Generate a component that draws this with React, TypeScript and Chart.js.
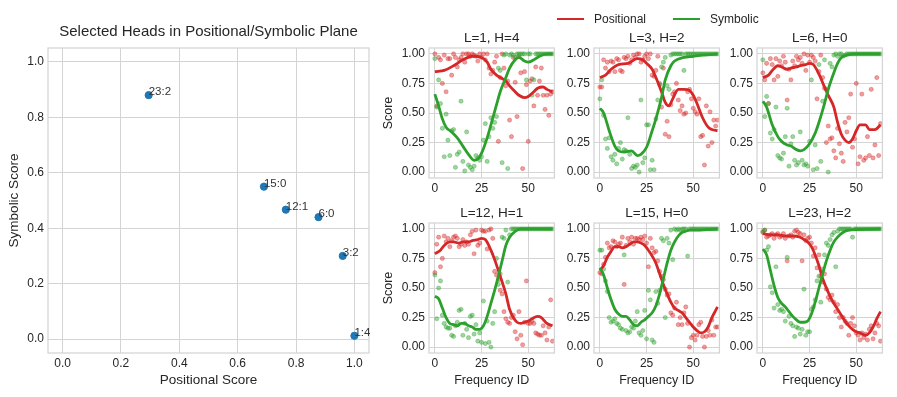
import React, { useEffect, useRef } from "react";
import { Chart, registerables } from "chart.js";

Chart.register(...registerables);

const FONT = "'Liberation Sans', Arial, Helvetica, sans-serif";
const TEXT = "#262626";
const GRID = "#d4d4d4";
const RED = "#d62728";
const GREEN = "#2ca02c";
const RED_PT = "rgba(214,39,40,0.45)";
const GREEN_PT = "rgba(44,160,44,0.45)";

// ---- Left scatter: selected heads ----
const planeTitle = "Selected Heads in Positional/Symbolic Plane";
const headLabels = ["1:4", "3:2", "6:0", "12:1", "15:0", "23:2"];
const positionalScores = [1.0, 0.96, 0.877, 0.765, 0.69, 0.295];
const symbolicScores = [0.012, 0.3, 0.44, 0.467, 0.55, 0.88];
const planeTicks = [0, 0.2, 0.4, 0.6, 0.8, 1.0];

// ---- Small panels ----
const freqIds = Array.from({ length: 64 }, (_, i) => i);
const freqTicks = [0, 25, 50];
const scoreTicks = [0, 0.25, 0.5, 0.75, 1.0];

// L=1, H=4
const l1h4Pos = [1.0,0.56,0.97,0.95,0.75,0.99,0.68,0.96,0.96,0.82,1.0,0.97,0.89,0.95,0.97,1.0,0.93,1.0,1.0,0.98,1.0,0.99,0.98,0.94,1.0,0.97,1.0,0.95,1.0,0.88,0.83,0.86,0.93,0.98,0.26,0.8,1.0,0.88,0.73,0.77,0.44,0.3,0.97,0.76,0.47,0.98,0.84,0.03,0.85,0.74,0.26,0.77,0.79,0.56,0.89,0.65,0.77,0.88,0.65,0.53,0.65,0.48,0.66,0.68];
const l1h4Sym = [0.96,0.55,0.78,0.58,0.37,0.13,0.49,0.27,0.14,0.35,0.36,0.04,0.15,0.17,0.6,0.09,0.01,0.34,0.06,0.04,0.02,0.05,0.14,0.12,0.1,0.13,0.27,0.41,0.09,0.3,0.46,0.37,0.42,0.47,0.88,0.86,0.08,0.99,1.0,0.03,0.99,1.0,0.99,0.97,1.0,1.0,1.0,1.0,1.0,0.78,1.0,1.0,0.65,0.78,1.0,1.0,1.0,1.0,1.0,1.0,1.0,1.0,1.0,1.0];
const l1h4PosCurve = [[0,0.85],[5,0.86],[10,0.9],[15,0.95],[20,0.98],[25,0.97],[28,0.93],[30,0.87],[33,0.82],[35,0.8],[38,0.77],[40,0.73],[43,0.68],[45,0.65],[48,0.63],[50,0.64],[53,0.68],[55,0.71],[58,0.72],[60,0.7],[63,0.68]];
const l1h4SymCurve = [[0,0.66],[2,0.56],[4,0.45],[6,0.38],[9,0.34],[12,0.29],[15,0.22],[18,0.15],[21,0.1],[23,0.11],[25,0.16],[28,0.29],[30,0.4],[33,0.57],[35,0.68],[38,0.8],[40,0.88],[43,0.95],[45,0.97],[48,0.94],[50,0.93],[53,0.95],[56,0.98],[60,1.0],[63,1.0]];

// L=3, H=2
const l3h2Pos = [0.72,0.72,0.95,0.88,0.93,0.85,0.94,0.93,0.85,0.96,0.95,0.86,0.85,0.97,0.96,0.98,0.92,0.95,0.99,0.97,1.0,1.0,0.93,0.95,0.98,1.0,0.96,1.0,0.82,0.81,0.86,0.98,0.74,0.55,0.88,0.32,0.43,0.3,0.57,0.66,0.68,0.75,0.61,0.52,0.56,0.49,0.5,0.68,0.7,0.62,0.54,0.51,0.49,0.62,0.3,0.31,0.06,0.56,0.22,0.51,0.25,0.44,0.39,0.44];
const l3h2Sym = [0.62,0.78,0.48,0.28,0.2,0.29,0.13,0.1,0.15,0.07,0.2,0.25,0.11,0.19,0.18,0.46,0.15,0.03,0.05,0.04,0.06,0.0,0.61,0.08,0.12,0.4,0.4,0.02,0.1,0.02,0.45,0.61,0.75,0.89,0.93,0.97,0.73,0.7,0.99,1.0,1.0,1.0,1.0,1.0,1.0,0.86,1.0,1.0,1.0,1.0,1.0,1.0,1.0,1.0,1.0,1.0,1.0,1.0,1.0,1.0,1.0,1.0,1.0,1.0];
const l3h2PosCurve = [[0,0.8],[3,0.82],[6,0.87],[10,0.91],[15,0.92],[20,0.96],[23,0.95],[25,0.92],[28,0.87],[30,0.8],[33,0.68],[35,0.59],[37,0.56],[39,0.62],[42,0.7],[45,0.7],[48,0.69],[50,0.65],[52,0.58],[55,0.46],[58,0.38],[60,0.36],[63,0.35]];
const l3h2SymCurve = [[0,0.54],[2,0.5],[5,0.35],[8,0.22],[10,0.18],[13,0.17],[17,0.18],[20,0.14],[22,0.15],[25,0.21],[28,0.35],[30,0.45],[33,0.63],[35,0.78],[38,0.9],[40,0.94],[45,0.97],[50,0.98],[55,0.99],[63,1.0]];

// L=6, H=0
const l6h0Pos = [0.84,0.78,0.92,0.58,0.96,0.91,0.78,0.96,0.81,0.94,0.9,0.98,0.93,0.61,0.87,0.78,0.94,0.9,0.98,0.95,0.97,0.92,1.0,0.86,0.99,0.93,0.99,0.97,0.94,0.62,0.85,0.99,0.8,0.71,0.25,0.39,0.28,0.29,0.18,0.12,0.37,0.24,0.16,0.09,0.42,0.34,0.46,0.66,0.21,0.28,0.75,0.07,0.13,0.66,0.1,0.12,0.3,0.14,0.7,0.12,0.23,0.8,0.14,0.41];
const l6h0Sym = [0.95,0.47,0.64,0.58,0.33,0.28,0.36,0.55,0.14,0.12,0.11,0.16,0.3,0.54,0.05,0.24,0.3,0.1,0.06,0.08,0.34,0.1,0.06,0.07,0.05,0.26,0.78,0.02,0.23,0.03,0.91,0.09,0.6,0.95,0.7,0.0,0.92,0.89,0.99,1.0,0.98,1.0,1.0,0.98,0.99,1.0,1.0,1.0,1.0,1.0,1.0,1.0,1.0,1.0,1.0,1.0,1.0,1.0,1.0,1.0,1.0,1.0,1.0,1.0];
const l6h0PosCurve = [[0,0.8],[3,0.82],[5,0.86],[8,0.9],[10,0.89],[13,0.87],[15,0.88],[18,0.89],[20,0.9],[23,0.91],[25,0.92],[27,0.91],[30,0.83],[33,0.72],[35,0.65],[38,0.55],[40,0.42],[42,0.32],[44,0.27],[46,0.25],[48,0.28],[50,0.35],[52,0.4],[55,0.4],[57,0.36],[60,0.36],[63,0.4]];
const l6h0SymCurve = [[0,0.6],[2,0.55],[5,0.4],[8,0.3],[10,0.26],[13,0.23],[15,0.22],[18,0.19],[20,0.18],[22,0.19],[25,0.24],[28,0.33],[30,0.42],[33,0.58],[35,0.7],[38,0.84],[40,0.92],[42,0.97],[45,0.99],[50,1.0],[63,1.0]];

// L=12, H=1
const l12h1Pos = [0.63,0.87,0.93,0.68,0.75,0.94,0.89,0.92,0.85,0.9,0.93,0.94,0.92,0.85,0.87,0.91,0.86,0.89,0.87,0.95,0.98,0.79,0.99,0.86,0.88,0.99,0.98,0.98,0.83,0.99,1.0,0.92,0.64,0.61,0.57,0.48,0.45,0.3,0.24,0.21,0.2,0.25,0.27,0.13,0.07,0.3,0.1,0.02,0.21,0.56,0.2,0.2,0.22,0.2,0.12,0.11,0.1,0.1,0.18,0.12,0.06,0.17,0.4,0.05];
const l12h1Sym = [0.61,0.24,0.5,0.56,0.27,0.2,0.17,0.16,0.16,0.1,0.09,0.18,0.21,0.31,0.32,0.1,0.2,0.15,0.08,0.26,0.27,0.11,0.19,0.05,0.12,0.04,0.39,0.03,0.22,0.04,0.0,0.2,0.3,0.75,0.53,0.62,0.93,0.92,0.99,0.55,0.95,1.0,1.0,1.0,1.0,1.0,1.0,1.0,1.0,1.0,1.0,1.0,1.0,1.0,1.0,1.0,1.0,1.0,1.0,1.0,1.0,1.0,1.0,1.0];
const l12h1PosCurve = [[0,0.79],[3,0.82],[5,0.86],[8,0.89],[10,0.89],[13,0.88],[15,0.89],[18,0.89],[20,0.9],[23,0.91],[25,0.92],[27,0.91],[30,0.82],[32,0.74],[35,0.6],[38,0.45],[40,0.32],[42,0.25],[44,0.21],[46,0.2],[48,0.21],[50,0.22],[52,0.24],[55,0.26],[57,0.25],[60,0.2],[63,0.18]];
const l12h1SymCurve = [[0,0.43],[2,0.41],[4,0.33],[6,0.25],[8,0.2],[10,0.19],[12,0.18],[14,0.2],[16,0.2],[18,0.18],[20,0.17],[22,0.15],[24,0.15],[26,0.18],[28,0.26],[30,0.37],[32,0.48],[34,0.6],[36,0.73],[38,0.86],[40,0.93],[43,0.98],[46,1.0],[50,1.0],[63,1.0]];

// L=15, H=0
const l15h0Pos = [0.63,0.62,0.7,0.76,0.88,0.84,0.85,0.9,0.89,0.85,0.87,0.88,0.93,0.53,0.86,0.92,0.89,0.93,0.87,0.92,0.92,0.91,0.93,0.91,0.94,0.88,0.68,0.92,0.84,0.8,0.81,0.73,0.64,0.6,0.57,0.49,0.44,0.45,0.29,0.27,0.33,0.38,0.19,0.25,0.19,0.29,0.34,0.2,0.0,0.08,0.1,0.06,0.1,0.19,0.21,0.09,0.0,0.09,0.14,0.1,0.23,0.1,0.17,0.17];
const l15h0Sym = [0.82,0.82,0.66,0.56,0.47,0.25,0.21,0.22,0.24,0.2,0.19,0.16,0.15,0.78,0.14,0.12,0.13,0.17,0.16,0.22,0.3,0.12,0.1,0.14,0.31,0.07,0.48,0.4,0.06,0.04,0.47,0.37,0.48,0.92,0.9,0.25,0.92,0.88,0.99,0.74,1.0,0.99,1.0,0.99,1.0,1.0,1.0,0.77,1.0,1.0,1.0,1.0,1.0,1.0,1.0,1.0,1.0,1.0,1.0,1.0,1.0,1.0,1.0,1.0];
const l15h0PosCurve = [[0,0.65],[2,0.69],[4,0.76],[6,0.81],[8,0.85],[10,0.85],[12,0.84],[14,0.85],[16,0.87],[18,0.89],[20,0.89],[22,0.88],[24,0.86],[26,0.82],[28,0.77],[30,0.71],[32,0.62],[34,0.53],[36,0.45],[38,0.38],[40,0.33],[42,0.31],[44,0.29],[46,0.25],[48,0.21],[50,0.17],[52,0.14],[54,0.12],[56,0.13],[58,0.17],[60,0.25],[62,0.31],[63,0.34]];
const l15h0SymCurve = [[0,0.67],[2,0.61],[4,0.5],[6,0.4],[8,0.32],[10,0.28],[12,0.26],[14,0.26],[16,0.23],[18,0.19],[20,0.18],[22,0.21],[24,0.23],[26,0.26],[28,0.29],[30,0.35],[32,0.45],[34,0.58],[36,0.71],[38,0.82],[40,0.89],[42,0.94],[44,0.97],[46,0.98],[48,0.99],[52,0.99],[63,1.0]];

// L=23, H=2
const l23h2Pos = [0.97,0.99,0.93,0.94,0.95,0.96,0.92,0.95,0.96,0.93,0.94,0.96,0.92,0.73,0.94,0.95,0.93,0.98,0.99,0.97,0.96,0.73,0.95,0.9,0.92,0.93,0.88,0.77,0.84,0.67,0.78,0.6,0.55,0.62,0.49,0.42,0.4,0.44,0.38,0.3,0.36,0.25,0.17,0.25,0.22,0.2,0.1,0.2,0.25,0.18,0.12,0.1,0.06,0.12,0.08,0.11,0.06,0.15,0.18,0.07,0.12,0.2,0.18,0.05];
const l23h2Sym = [0.98,0.99,0.82,0.85,0.51,0.46,0.33,0.68,0.36,0.31,0.32,0.3,0.22,0.76,0.26,0.2,0.18,0.09,0.17,0.16,0.11,0.15,0.49,0.1,0.13,0.13,0.32,0.34,0.4,0.56,0.6,0.38,0.66,0.78,0.88,0.86,0.91,0.95,0.97,0.68,0.98,1.0,1.0,1.0,1.0,1.0,1.0,1.0,0.93,1.0,1.0,1.0,1.0,1.0,1.0,1.0,1.0,1.0,1.0,1.0,1.0,1.0,1.0,1.0];
const l23h2PosCurve = [[0,0.96],[4,0.95],[8,0.95],[12,0.94],[16,0.94],[20,0.93],[22,0.91],[24,0.89],[26,0.85],[28,0.78],[30,0.69],[32,0.58],[34,0.5],[36,0.43],[38,0.37],[40,0.32],[42,0.27],[44,0.22],[46,0.18],[48,0.15],[50,0.13],[52,0.12],[55,0.1],[57,0.12],[59,0.17],[61,0.24],[63,0.3]];
const l23h2SymCurve = [[0,0.83],[2,0.78],[4,0.65],[6,0.52],[8,0.42],[10,0.37],[12,0.34],[14,0.3],[16,0.26],[18,0.23],[20,0.21],[22,0.21],[24,0.22],[26,0.28],[28,0.38],[30,0.5],[32,0.62],[34,0.73],[36,0.82],[38,0.89],[40,0.93],[42,0.96],[44,0.98],[46,0.99],[50,0.995],[63,1.0]];

const panels = [
  { title: "L=1, H=4", pos: l1h4Pos, sym: l1h4Sym, posCurve: l1h4PosCurve, symCurve: l1h4SymCurve },
  { title: "L=3, H=2", pos: l3h2Pos, sym: l3h2Sym, posCurve: l3h2PosCurve, symCurve: l3h2SymCurve },
  { title: "L=6, H=0", pos: l6h0Pos, sym: l6h0Sym, posCurve: l6h0PosCurve, symCurve: l6h0SymCurve },
  { title: "L=12, H=1", pos: l12h1Pos, sym: l12h1Sym, posCurve: l12h1PosCurve, symCurve: l12h1SymCurve },
  { title: "L=15, H=0", pos: l15h0Pos, sym: l15h0Sym, posCurve: l15h0PosCurve, symCurve: l15h0SymCurve },
  { title: "L=23, H=2", pos: l23h2Pos, sym: l23h2Sym, posCurve: l23h2PosCurve, symCurve: l23h2SymCurve },
];

// layout (pixels)
const colLefts = [429, 594, 757];
const rowTops = [48, 223];
const PANEL_W = 128;
const PANEL_H = 130;
const YAXIS_W = 50;
const TITLE_H = 22;

const framePlugin = {
  id: "frame",
  afterDatasetsDraw(chart: any) {
    const { ctx, chartArea } = chart;
    ctx.save();
    ctx.strokeStyle = GRID;
    ctx.lineWidth = 1.25;
    ctx.strokeRect(chartArea.left, chartArea.top, chartArea.right - chartArea.left, chartArea.bottom - chartArea.top);
    ctx.restore();
  },
};

// Draws a title centred over the plot area (like matplotlib's axes title)
function areaTitlePlugin(text: string, size: number, gap: number) {
  return {
    id: "areaTitle",
    afterDraw(chart: any) {
      const { ctx, chartArea } = chart;
      ctx.save();
      ctx.font = `${size}px ${FONT}`;
      ctx.fillStyle = TEXT;
      ctx.textAlign = "center";
      ctx.textBaseline = "middle";
      ctx.fillText(text, (chartArea.left + chartArea.right) / 2, chartArea.top - gap);
      ctx.restore();
    },
  };
}

const labelPlugin = {
  id: "pointLabels",
  afterDatasetsDraw(chart: any) {
    const { ctx } = chart;
    const xs = chart.scales.x;
    const ys = chart.scales.y;
    ctx.save();
    ctx.font = `11.5px ${FONT}`;
    ctx.fillStyle = "#333333";
    ctx.textAlign = "left";
    ctx.textBaseline = "alphabetic";
    headLabels.forEach((lab, i) => {
      ctx.fillText(lab, xs.getPixelForValue(positionalScores[i]), ys.getPixelForValue(symbolicScores[i]));
    });
    ctx.restore();
  },
};

function ChartBox({ left, top, width, height, make }: any) {
  const ref = useRef<HTMLCanvasElement | null>(null);
  useEffect(() => {
    const chart = new Chart(ref.current as HTMLCanvasElement, make());
    return () => chart.destroy();
  }, []);
  return (
    <canvas
      ref={ref}
      width={width}
      height={height}
      style={{ position: "absolute", left, top, width, height }}
    />
  );
}

function planeConfig(): any {
  return {
    type: "scatter",
    data: {
      datasets: [
        {
          data: positionalScores.map((x, i) => ({ x, y: symbolicScores[i] })),
          backgroundColor: "#1f77b4",
          borderColor: "#1f77b4",
          pointRadius: 3.6,
          pointHoverRadius: 3.6,
        },
      ],
    },
    options: {
      responsive: false,
      animation: false,
      devicePixelRatio: 1,
      layout: { padding: { left: 0, right: 6, top: 48, bottom: 0 } },
      plugins: {
        legend: { display: false },
        tooltip: { enabled: false },
        title: { display: false },
      },
      scales: {
        x: {
          type: "linear",
          min: -0.05,
          max: 1.05,
          afterBuildTicks: (s: any) => { s.ticks = planeTicks.map((v) => ({ value: v })); },
          afterFit: (s: any) => { s.height = 44; },
          ticks: { color: TEXT, font: { size: 12, family: FONT }, padding: 3, maxRotation: 0, autoSkip: false, callback: (v: any) => Number(v).toFixed(1) },
          grid: { color: GRID, drawTicks: false, lineWidth: 1 },
          border: { display: false },
          title: { display: true, text: "Positional Score", color: TEXT, font: { size: 13.5, family: FONT }, padding: { top: 0, bottom: 9 } },
        },
        y: {
          type: "linear",
          min: -0.05,
          max: 1.05,
          afterBuildTicks: (s: any) => { s.ticks = planeTicks.map((v) => ({ value: v })); },
          afterFit: (s: any) => { s.width = 48; },
          ticks: { color: TEXT, font: { size: 12, family: FONT }, padding: 4, autoSkip: false, callback: (v: any) => Number(v).toFixed(1) },
          grid: { color: GRID, drawTicks: false, lineWidth: 1 },
          border: { display: false },
          title: { display: true, text: "Symbolic Score", color: TEXT, font: { size: 13.5, family: FONT }, padding: { top: 6, bottom: 0 } },
        },
      },
    },
    plugins: [framePlugin, labelPlugin, areaTitlePlugin(planeTitle, 15, 16)],
  };
}

function panelConfig(p: any, showYTitle: boolean, showXTitle: boolean, xh: number): any {
  return {
    type: "scatter",
    data: {
      datasets: [
        {
          type: "line",
          data: p.symCurve.map(([x, y]: number[]) => ({ x, y })),
          borderColor: GREEN,
          borderWidth: 2.8,
          pointRadius: 0,
          cubicInterpolationMode: "monotone",
          fill: false,
          order: 0,
        },
        {
          type: "line",
          data: p.posCurve.map(([x, y]: number[]) => ({ x, y })),
          borderColor: RED,
          borderWidth: 2.8,
          pointRadius: 0,
          cubicInterpolationMode: "monotone",
          fill: false,
          order: 1,
        },
        {
          data: freqIds.map((x, i) => ({ x, y: p.sym[i] })),
          backgroundColor: GREEN_PT,
          borderColor: "rgba(44,160,44,0.55)",
          borderWidth: 0.6,
          pointRadius: 2.1,
          order: 2,
        },
        {
          data: freqIds.map((x, i) => ({ x, y: p.pos[i] })),
          backgroundColor: RED_PT,
          borderColor: "rgba(214,39,40,0.55)",
          borderWidth: 0.6,
          pointRadius: 2.1,
          order: 3,
        },
      ],
    },
    options: {
      responsive: false,
      animation: false,
      devicePixelRatio: 1,
      layout: { padding: { left: 0, right: 2, top: TITLE_H, bottom: 0 } },
      plugins: {
        legend: { display: false },
        tooltip: { enabled: false },
        title: { display: false },
      },
      scales: {
        x: {
          type: "linear",
          min: -3.15,
          max: 64,
          afterBuildTicks: (s: any) => { s.ticks = freqTicks.map((v) => ({ value: v })); },
          afterFit: (s: any) => { s.height = xh; },
          ticks: { color: TEXT, font: { size: 12, family: FONT }, padding: 3, maxRotation: 0, autoSkip: false, callback: (v: any) => String(v) },
          grid: { color: GRID, drawTicks: false, lineWidth: 1 },
          border: { display: false },
          title: { display: showXTitle, text: "Frequency ID", color: TEXT, font: { size: 12.5, family: FONT }, padding: { top: 0, bottom: 9 } },
        },
        y: {
          type: "linear",
          min: -0.05,
          max: 1.05,
          afterBuildTicks: (s: any) => { s.ticks = scoreTicks.map((v) => ({ value: v })); },
          afterFit: (s: any) => { s.width = YAXIS_W; },
          ticks: { color: TEXT, font: { size: 12, family: FONT }, padding: 4, autoSkip: false, callback: (v: any) => Number(v).toFixed(2) },
          grid: { color: GRID, drawTicks: false, lineWidth: 1 },
          border: { display: false },
          title: { display: showYTitle, text: "Score", color: TEXT, font: { size: 12.5, family: FONT }, padding: { top: 2, bottom: 0 } },
        },
      },
    },
    plugins: [framePlugin, areaTitlePlugin(p.title, 13.5, 10)],
  };
}

export default function App() {
  return (
    <div style={{ position: "fixed", left: 0, top: 0, width: 897, height: 397, background: "#ffffff", overflow: "hidden" }}>
      <ChartBox left={0} top={0} width={375} height={397} make={planeConfig} />
      {panels.map((p, idx) => {
        const col = idx % 3;
        const row = Math.floor(idx / 3);
        const xh = row === 1 ? 44 : 22;
        const left = colLefts[col] - YAXIS_W;
        const top = rowTops[row] - TITLE_H;
        const width = YAXIS_W + PANEL_W + 2;
        const height = TITLE_H + PANEL_H + xh;
        return (
          <ChartBox
            key={p.title}
            left={left}
            top={top}
            width={width}
            height={height}
            make={() => panelConfig(p, col === 0, row === 1, xh)}
          />
        );
      })}
      <div style={{ position: "absolute", left: 557, top: 17.7, width: 27, height: 2.6, background: RED }} />
      <div style={{ position: "absolute", left: 594, top: 11, font: `12px ${FONT}`, lineHeight: "16px", color: TEXT, whiteSpace: "nowrap" }}>Positional</div>
      <div style={{ position: "absolute", left: 673, top: 17.7, width: 27, height: 2.6, background: GREEN }} />
      <div style={{ position: "absolute", left: 710, top: 11, font: `12px ${FONT}`, lineHeight: "16px", color: TEXT, whiteSpace: "nowrap" }}>Symbolic</div>
    </div>
  );
}
